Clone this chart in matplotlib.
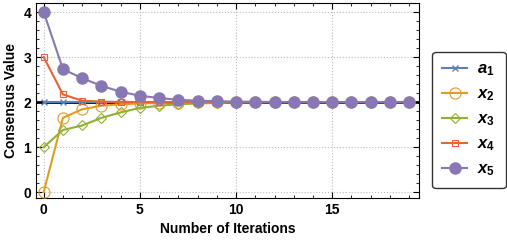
import numpy as np
import matplotlib
matplotlib.use("Agg")
import matplotlib.pyplot as plt
from matplotlib.ticker import MultipleLocator

plt.rcParams['font.family'] = ['Liberation Sans', 'DejaVu Sans']
plt.rcParams['font.weight'] = 'bold'
plt.rcParams['mathtext.fontset'] = 'custom'
plt.rcParams['mathtext.it'] = 'Liberation Sans:italic:bold'
plt.rcParams['mathtext.rm'] = 'Liberation Sans:bold'

k = np.arange(20)
a1 = [2.0] * 20
x2 = [0.0, 1.65, 1.84, 1.92, 1.95, 1.97, 1.98, 1.99, 1.995] + [2.0] * 11
x3 = [1.0, 1.38, 1.48, 1.65, 1.77, 1.87, 1.92, 1.95, 1.97, 1.98, 1.99, 1.995] + [2.0] * 8
x4 = [3.0, 2.17, 2.03, 2.01, 2.0] + [2.0] * 15
x5 = [4.0, 2.73, 2.53, 2.36, 2.23, 2.14, 2.09, 2.05, 2.03, 2.02, 2.01, 2.005] + [2.0] * 8

fig = plt.figure(figsize=(5.07, 2.4), dpi=100)
ax = fig.add_axes([0.071, 0.175, 0.755, 0.8125])

ax.axhline(2, color='black', lw=2, zorder=1)
ax.plot(k, a1, color='#5E81B5', marker='x', ms=4, mew=1, lw=1.5, zorder=3)
ax.plot(k, x2, color='#E19C24', marker='o', ms=8, mfc='none', mew=0.8, lw=1.5, zorder=3)
ax.plot(k, x3, color='#8FB032', marker='D', ms=5, mfc='none', mew=0.8, lw=1.5, zorder=3)
ax.plot(k, x4, color='#EB6235', marker='s', ms=5, mfc='none', mew=0.8, lw=1.5, zorder=3)
ax.plot(k, x5, color='#8778B3', marker='o', ms=8, lw=1.5, zorder=4)

ax.set_xlim(-0.4, 19.5)
ax.set_ylim(-0.13, 4.2)
ax.xaxis.set_major_locator(MultipleLocator(5))
ax.xaxis.set_minor_locator(MultipleLocator(1))
ax.yaxis.set_major_locator(MultipleLocator(1))
ax.yaxis.set_minor_locator(MultipleLocator(0.2))
ax.tick_params(which='both', direction='in', top=True, right=True, labelsize=10)
ax.tick_params(which='major', length=4)
ax.tick_params(which='minor', length=2)
ax.grid(True, which='major', color='#bbbbbb', ls=':', lw=0.8)
ax.set_xlabel('Number of Iterations', fontsize=10, fontweight='bold')
ax.set_ylabel('Consensus Value', fontsize=10, fontweight='bold')

labels = [r'$a_1$', r'$x_2$', r'$x_3$', r'$x_4$', r'$x_5$']
h = ax.get_lines()[1:]
leg = fig.legend(h, labels, loc='center left', bbox_to_anchor=(0.853, 0.5), fontsize=12,
                 frameon=True, fancybox=True, edgecolor='black', labelspacing=0.5,
                 handlelength=1.5, handletextpad=0.6, borderpad=0.6, borderaxespad=0)
leg.get_frame().set_linewidth(1.0)

fig.savefig('out.png', dpi=100)
